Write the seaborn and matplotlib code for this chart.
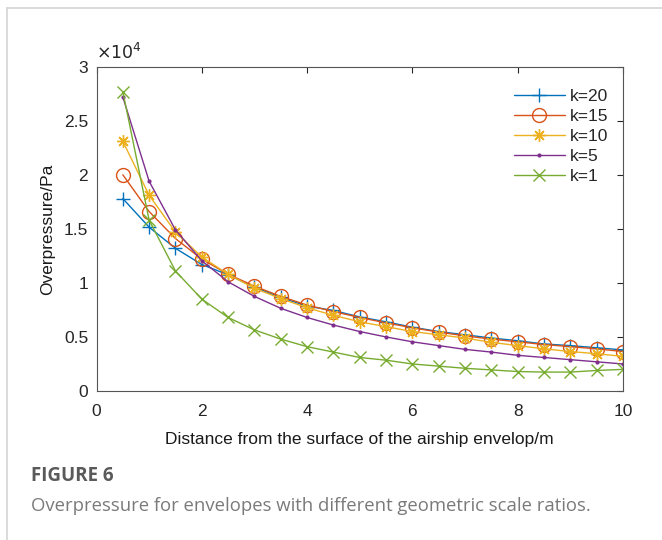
import numpy as np
import pandas as pd
import matplotlib
matplotlib.use("Agg")
import matplotlib.pyplot as plt
from matplotlib.lines import Line2D
import seaborn as sns

# ---- data ----
distance = [0.5, 1.0, 1.5, 2.0, 2.5, 3.0, 3.5, 4.0, 4.5, 5.0,
            5.5, 6.0, 6.5, 7.0, 7.5, 8.0, 8.5, 9.0, 9.5, 10.0]
k20 = [1.78, 1.515, 1.32, 1.17, 1.075, 0.96, 0.865, 0.785, 0.745, 0.685,
       0.64, 0.59, 0.55, 0.52, 0.49, 0.465, 0.435, 0.42, 0.40, 0.38]
k15 = [2.00, 1.66, 1.41, 1.22, 1.08, 0.97, 0.875, 0.795, 0.735, 0.68,
       0.63, 0.585, 0.545, 0.51, 0.48, 0.455, 0.43, 0.41, 0.39, 0.365]
k10 = [2.31, 1.81, 1.47, 1.24, 1.08, 0.95, 0.855, 0.77, 0.70, 0.64,
       0.595, 0.55, 0.52, 0.49, 0.45, 0.42, 0.39, 0.365, 0.345, 0.32]
k5 = [2.72, 1.94, 1.49, 1.205, 1.01, 0.875, 0.765, 0.68, 0.61, 0.55,
      0.50, 0.455, 0.42, 0.385, 0.36, 0.33, 0.31, 0.29, 0.27, 0.25]
k1 = [2.77, 1.58, 1.11, 0.85, 0.68, 0.565, 0.48, 0.41, 0.36, 0.31,
      0.285, 0.25, 0.23, 0.21, 0.195, 0.18, 0.175, 0.175, 0.19, 0.20]
series_labels = ["k=20", "k=15", "k=10", "k=5", "k=1"]
x_ticks = [0, 2, 4, 6, 8, 10]
y_ticks = [0, 5000, 10000, 15000, 20000, 25000, 30000]
y_tick_labels = ["0", "0.5", "1", "1.5", "2", "2.5", "3"]
scale = 1e4

series = [k20, k15, k10, k5, k1]
colors = ["#0072BD", "#D95319", "#EDB120", "#7E2F8E", "#77AC30"]
markers = ["+", "o", (8, 2, 0), ".", "x"]
msizes = [10, 10, 9, 4, 8]

sns.set_theme(style="white")
plt.rcParams["font.family"] = ["Liberation Sans", "DejaVu Sans"]

fig = plt.figure(figsize=(6.62, 5.40), dpi=100)
ax = fig.add_axes([96.5 / 662, 1 - 391 / 540, (623 - 96.5) / 662, (391 - 66.7) / 540])

for vals, lab, c, m, ms in zip(series, series_labels, colors, markers, msizes):
    df = pd.DataFrame({"x": distance, "y": np.array(vals) * scale})
    mfc = "none" if m in ("o",) else c
    sns.lineplot(data=df, x="x", y="y", ax=ax, color=c, marker=m, markersize=ms,
                 markerfacecolor=mfc, markeredgecolor=c, markeredgewidth=1.0,
                 linewidth=1.0, label=lab)

ax.set_xlim(0, 10)
ax.set_ylim(0, 30000)
ax.set_xticks(x_ticks)
ax.set_xticklabels([str(t) for t in x_ticks])
ax.set_yticks(y_ticks)
ax.set_yticklabels(y_tick_labels)
ax.tick_params(direction="in", length=4, width=0.8, top=True, right=True,
               labelsize=12.5, colors="#262626")
ax.tick_params(axis="x", pad=9)
ax.tick_params(axis="y", pad=6)
for s in ax.spines.values():
    s.set_color("#555555")
    s.set_linewidth(0.8)
ax.set_xlabel("Distance from the surface of the airship envelop/m", fontsize=12.5,
              color="#1a1a1a", labelpad=10)
ax.set_ylabel("Overpressure/Pa", fontsize=12.5, color="#1a1a1a", labelpad=6)
ax.text(0.0, 1.012, r"$\times10^4$", transform=ax.transAxes, fontsize=12.5,
        ha="left", va="bottom", color="#262626", family="DejaVu Sans")

leg = ax.legend(loc="upper right", bbox_to_anchor=(0.995, 0.97), frameon=False,
                fontsize=12.5, handlelength=2.9, handletextpad=0.3,
                labelspacing=0.28, borderaxespad=0.3)

# frame lines
fig.add_artist(Line2D([7 / 662, 7 / 662], [0, 1 - 8 / 540], color="#d4d4d4", lw=1.2))
fig.add_artist(Line2D([7 / 662, 1], [1 - 8 / 540, 1 - 8 / 540], color="#d4d4d4", lw=1.2))

fig.text(31 / 662, 1 - 476 / 540, "FIGURE 6", fontsize=13.5, fontweight="bold",
         color="#5a5a5a", family=["Open Sans", "DejaVu Sans"], va="center")
fig.text(31 / 662, 1 - 506 / 540,
         "Overpressure for envelopes with different geometric scale ratios.",
         fontsize=13.3, color="#7a7a7a", family=["Open Sans", "DejaVu Sans"], va="center")

fig.savefig("out.png", dpi=100)
